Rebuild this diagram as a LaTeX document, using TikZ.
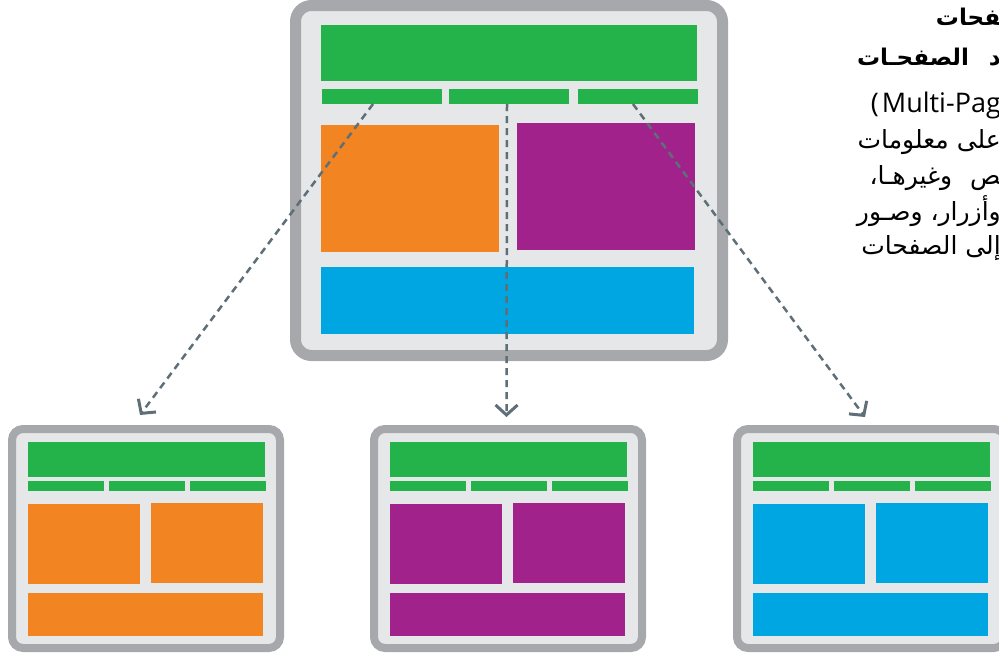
\documentclass[tikz,border=0pt]{standalone}
\usepackage{fontspec}
\newfontfamily\arabicfont[Script=Arabic]{DejaVu Sans}
\newfontfamily\latinfont{Open Sans}
\TeXXeTstate=1
\usepackage{xcolor}
\definecolor{cGreen}{HTML}{24B24B}
\definecolor{cOrange}{HTML}{F38422}
\definecolor{cPurple}{HTML}{A0228A}
\definecolor{cBlue}{HTML}{00A6E2}
\definecolor{cFrame}{HTML}{A7A8AB}
\definecolor{cPane}{HTML}{E6E7E9}
\definecolor{cFlow}{HTML}{5E6F78}
\usepackage{tikz}
\usetikzlibrary{arrows.meta}
\tikzset{
  win-frame/.style={draw=cFrame,fill=cPane,inner sep=0pt,outer sep=0pt},
  win-big/.style={win-frame,line width=11pt,rounded corners=16pt,
    minimum width=427pt,minimum height=350pt},
  win-small/.style={win-frame,line width=8pt,rounded corners=11pt,
    minimum width=268pt,minimum height=219pt},
  blk/.style={draw=none,inner sep=0pt,outer sep=0pt,anchor=north west},
  flow/.style={-{Straight Barb[length=10pt,width=22pt,line width=3pt]},
    line width=2.5pt,draw=cFlow,dash pattern=on 7pt off 5pt},
  txt-line/.style={anchor=base east,inner sep=0pt,
    font=\arabicfont\fontsize{25}{30}\selectfont},
  txt-head/.style={txt-line,font=\arabicfont\bfseries\fontsize{23}{28}\selectfont},
}

\begin{document}
\begin{tikzpicture}[x=1pt,y=-1pt]
  \useasboundingbox (0,0) rectangle (999,656);
  \clip (0,0) rectangle (999,656);

  % main page
  \node[win-big] (main) at (509,180.5) {};
  \node[blk,fill=cGreen,minimum width=376pt,minimum height=56pt] (hd) at (321,25) {};
  \foreach \t/\x in {1/322, 2/449, 3/578}
    \node[blk,fill=cGreen,minimum width=120pt,minimum height=15pt] (tab\t) at (\x,89) {};
  \node[blk,fill=cOrange,minimum width=178pt,minimum height=127pt] (pg1) at (321,125) {};
  \node[blk,fill=cPurple,minimum width=178pt,minimum height=127pt] (pg2) at (517,123) {};
  \node[blk,fill=cBlue,minimum width=373pt,minimum height=67pt] (pg3) at (321,267) {};

  % linked pages
  \foreach \name/\x/\col in {winA/8/cOrange, winB/370/cPurple, winC/733/cBlue} {
    \node[win-small] (\name) at (\x+138,538.5) {};
    \node[blk,fill=cGreen,minimum width=237pt,minimum height=35pt] (\name-hd) at (\x+20,442) {};
    \foreach \t/\dx in {1/20, 2/101, 3/182}
      \node[blk,fill=cGreen,minimum width=76pt,minimum height=10pt] (\name-tab\t) at (\x+\dx,481) {};
    \node[blk,fill=\col,minimum width=112pt,minimum height=80pt] (\name-l) at (\x+20,504) {};
    \node[blk,fill=\col,minimum width=112pt,minimum height=80pt] (\name-r) at (\x+143,503) {};
    \node[blk,fill=\col,minimum width=235pt,minimum height=43pt] (\name-ft) at (\x+20,593) {};
  }

  \draw[flow] ([xshift=-9pt]tab1.south) -- ([xshift=-6pt,yshift=14pt]winA.north);
  \draw[flow] ([xshift=-2pt]tab2.south) -- ([xshift=-1.5pt,yshift=12pt]winB.north);
  \draw[flow] ([xshift=-5pt]tab3.south) -- ([xshift=-6pt,yshift=12pt]winC.north);

  % text, cut at the right edge
  \node[txt-head] (ln1) at (1001,25) {\beginR ^^^^200dفحات\endR};
  \node[txt-head] (ln2) at (1001,65) {\beginR د\hspace{12pt} الصفحـات\endR};
  \node[txt-line,font=\latinfont\fontsize{27}{30}\selectfont] (ln3) at (1001,112) {(\kern3pt Multi-Pag};
  \node[txt-line] (ln4) at (1001,148) {\beginR على معلومات\endR};
  \node[txt-line] (ln5) at (1001,184) {\beginR ^^^^200dص\hspace{10pt} وغيرهـا،\endR};
  \node[txt-line] (ln6) at (1001,220) {\beginR وأزرار، وصـور\endR};
  \node[txt-line] (ln7) at (1001,254) {\beginR إلى الصفحات\endR};
\end{tikzpicture}
\end{document}
